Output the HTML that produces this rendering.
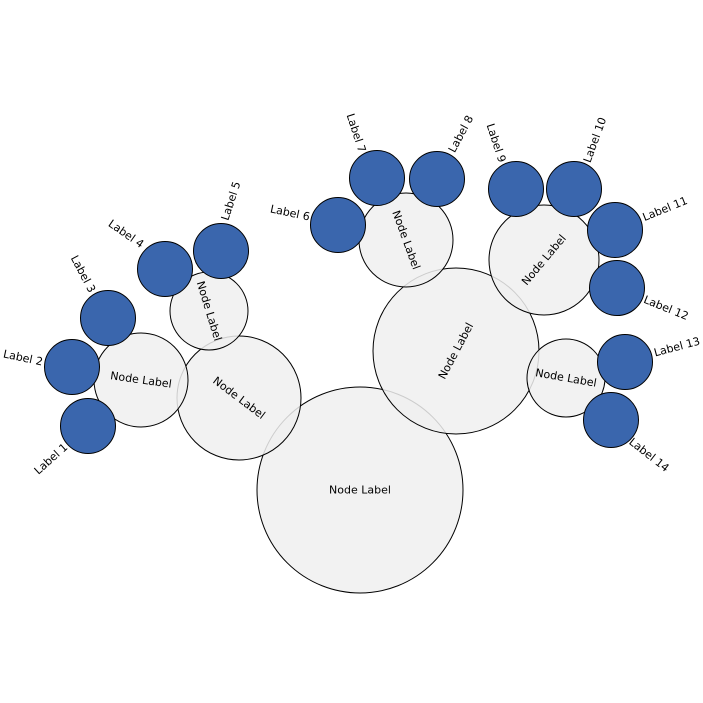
<!DOCTYPE html>
<html><head><meta charset="utf-8"><style>
html,body{margin:0;padding:0;background:#fff;}
svg{display:block;}
text{font-family:"DejaVu Sans","Liberation Sans",sans-serif;font-size:11px;fill:#000;}
.n{fill:#f0f0f0;fill-opacity:0.85;stroke:#000;stroke-width:1;}
.b{fill:#3a66ad;stroke:#000;stroke-width:1;}
</style></head><body>
<svg width="703" height="703" viewBox="0 0 703 703" xmlns="http://www.w3.org/2000/svg">
<circle class="n" cx="360" cy="490" r="103"/>
<circle class="n" cx="456" cy="351" r="83"/>
<circle class="n" cx="239" cy="398" r="62"/>
<circle class="n" cx="141" cy="380" r="47"/>
<circle class="n" cx="209" cy="311" r="39"/>
<circle class="n" cx="406" cy="240" r="47"/>
<circle class="n" cx="544" cy="260" r="55"/>
<circle class="n" cx="566" cy="378" r="39"/>

<circle class="b" cx="88" cy="426" r="27.5"/>
<circle class="b" cx="72" cy="367" r="27.5"/>
<circle class="b" cx="108" cy="318" r="27.5"/>
<circle class="b" cx="165" cy="269" r="27.5"/>
<circle class="b" cx="221" cy="251" r="27.5"/>
<circle class="b" cx="338" cy="225" r="27.5"/>
<circle class="b" cx="377" cy="178" r="27.5"/>
<circle class="b" cx="437" cy="179" r="27.5"/>
<circle class="b" cx="516" cy="189" r="27.5"/>
<circle class="b" cx="574" cy="189" r="27.5"/>
<circle class="b" cx="615" cy="230" r="27.5"/>
<circle class="b" cx="617" cy="288" r="27.5"/>
<circle class="b" cx="625" cy="362" r="27.5"/>
<circle class="b" cx="611" cy="420" r="27.5"/>

<g text-anchor="middle" dominant-baseline="central">
<text x="360" y="490">Node Label</text>
<text transform="translate(456,351) rotate(-62)">Node Label</text>
<text transform="translate(239,398) rotate(37)">Node Label</text>
<text transform="translate(141,380) rotate(8)">Node Label</text>
<text transform="translate(209,311) rotate(73)">Node Label</text>
<text transform="translate(406,240) rotate(70)">Node Label</text>
<text transform="translate(544,260) rotate(-50)">Node Label</text>
<text transform="translate(566,378) rotate(10)">Node Label</text>

<text transform="translate(51,459) rotate(-42)">Label 1</text>
<text transform="translate(23,358) rotate(12)">Label 2</text>
<text transform="translate(83,274) rotate(62)">Label 3</text>
<text transform="translate(126,234) rotate(35)">Label 4</text>
<text transform="translate(231,201) rotate(-72)">Label 5</text>
<text transform="translate(290,213) rotate(12)">Label 6</text>
<text transform="translate(356,133) rotate(72)">Label 7</text>
<text transform="translate(461,134) rotate(-62)">Label 8</text>
<text transform="translate(496,143) rotate(72)">Label 9</text>
<text transform="translate(595,140) rotate(-70)">Label 10</text>
<text transform="translate(665,209) rotate(-22)">Label 11</text>
<text transform="translate(666,308) rotate(22)">Label 12</text>
<text transform="translate(677,347) rotate(-15)">Label 13</text>
<text transform="translate(649,455) rotate(38)">Label 14</text>
</g>
</svg>
</body></html>
